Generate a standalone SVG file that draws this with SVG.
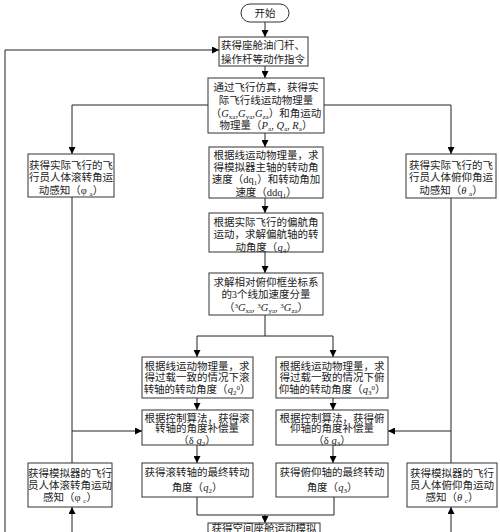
<svg xmlns="http://www.w3.org/2000/svg" width="500" height="532" viewBox="0 0 500 532">
<defs>
<marker id="ah" viewBox="0 0 8 8" refX="8" refY="4" markerWidth="7" markerHeight="7" orient="auto" markerUnits="userSpaceOnUse">
<path d="M0,0 L8,4 L0,8 z" fill="#000"/>
</marker>
<style>
.b{fill:#fff;stroke:#333;stroke-width:1}
.t{font-family:"Liberation Serif","Noto Sans CJK SC",serif;font-size:10.5px;fill:#222;text-anchor:middle}
.c{fill:none;stroke:#222;stroke-width:1}
.a{fill:none;stroke:#222;stroke-width:1;marker-end:url(#ah)}
.i{font-style:italic}
.s{font-size:7px}
</style>
</defs>
<rect width="500" height="532" fill="#fff"/>
<g id="connectors">
<path class="a" d="M265,22 V37"/>
<path class="a" d="M5,532 V50 H219"/>
<path class="a" d="M265,66 V78"/>
<path class="a" d="M265,133 V147"/>
<path class="a" d="M265,198 V213"/>
<path class="a" d="M265,252 V273"/>
<path class="c" d="M208,105 H72"/>
<path class="a" d="M72,105 V154"/>
<path class="c" d="M324,105 H451"/>
<path class="a" d="M451,105 V154"/>
<path class="c" d="M265,315 V336"/>
<path class="c" d="M197,336 H333"/>
<path class="a" d="M197,336 V357"/>
<path class="a" d="M333,336 V357"/>
<path class="a" d="M197,398 V410"/>
<path class="a" d="M333,398 V410"/>
<path class="a" d="M197,445 V463"/>
<path class="a" d="M333,445 V463"/>
<path class="c" d="M72,197 V463"/>
<path class="a" d="M72,431 H142"/>
<path class="c" d="M451,198 V463"/>
<path class="a" d="M451,431 H388"/>
<path class="a" d="M72,532 V507"/>
<path class="a" d="M451,532 V507"/>
<path class="c" d="M197,497 V515 H334 V497"/>
<path class="a" d="M265,515 V523"/>
</g>
<g id="start">
<rect x="241" y="4" width="48" height="18" rx="9" class="b"/>
<text class="t" x="265" y="17">开始</text>
</g>
<g id="box1">
<rect x="219" y="37" width="89" height="29" class="b"/>
<text class="t" x="263" y="49">获得座舱油门杆、</text>
<text class="t" x="263" y="63">操作杆等动作指令</text>
</g>
<g id="box2">
<rect x="208" y="78" width="116" height="55" class="b"/>
<text class="t" x="266" y="91">通过飞行仿真，获得实</text>
<text class="t" x="266" y="104">际飞行线运动物理量</text>
<text class="t" x="266" y="117">（<tspan class="i">G</tspan><tspan class="s" dy="2">xa</tspan><tspan dy="-2">,</tspan><tspan class="i">G</tspan><tspan class="s" dy="2">ya</tspan><tspan dy="-2">,</tspan><tspan class="i">G</tspan><tspan class="s" dy="2">za</tspan><tspan dy="-2">）和角运动</tspan></text>
<text class="t" x="266" y="129">物理量（<tspan class="i">P</tspan><tspan class="s" dy="2">a</tspan><tspan dy="-2">, </tspan><tspan class="i">Q</tspan><tspan class="s" dy="2">a</tspan><tspan dy="-2">, </tspan><tspan class="i">R</tspan><tspan class="s" dy="2">a</tspan><tspan dy="-2">）</tspan></text>
</g>
<g id="box3">
<rect x="209" y="147" width="114" height="51" class="b"/>
<text class="t" x="266" y="159">根据线运动物理量，求</text>
<text class="t" x="266" y="171">得模拟器主轴的转动角</text>
<text class="t" x="266" y="183">速度（dq<tspan class="s" dy="2">1</tspan><tspan dy="-2">）和转动角加</tspan></text>
<text class="t" x="266" y="196">速度（ddq<tspan class="s" dy="2">1</tspan><tspan dy="-2">）</tspan></text>
</g>
<g id="box4">
<rect x="209" y="213" width="114" height="39" class="b"/>
<text class="t" x="266" y="226">根据实际飞行的偏航角</text>
<text class="t" x="266" y="238">运动，求解偏航轴的转</text>
<text class="t" x="266" y="251">动角度（<tspan class="i">q</tspan><tspan class="s" dy="2">4</tspan><tspan dy="-2">）</tspan></text>
</g>
<g id="box5">
<rect x="209" y="273" width="114" height="42" class="b"/>
<text class="t" x="266" y="286">求解相对俯仰框坐标系</text>
<text class="t" x="266" y="298">的3个线加速度分量</text>
<text class="t" x="266" y="311">（<tspan class="s" dy="-3">3</tspan><tspan class="i" dy="3">G</tspan><tspan class="s" dy="2">xa</tspan><tspan dy="-2">, </tspan><tspan class="s" dy="-3">3</tspan><tspan class="i" dy="3">G</tspan><tspan class="s" dy="2">ya</tspan><tspan dy="-2">, </tspan><tspan class="s" dy="-3">3</tspan><tspan class="i" dy="3">G</tspan><tspan class="s" dy="2">za</tspan><tspan dy="-2">）</tspan></text>
</g>
<g id="left1">
<rect x="28" y="154" width="86" height="43" class="b"/>
<text class="t" x="71" y="169">获得实际飞行的飞</text>
<text class="t" x="71" y="181">行员人体滚转角运</text>
<text class="t" x="71" y="194">动感知（φ <tspan class="s" dy="2">a</tspan><tspan dy="-2">）</tspan></text>
</g>
<g id="right1">
<rect x="406" y="154" width="90" height="44" class="b"/>
<text class="t" x="451" y="169">获得实际飞行的飞</text>
<text class="t" x="451" y="181">行员人体俯仰角运</text>
<text class="t" x="451" y="194">动感知（<tspan class="i">θ</tspan> <tspan class="s" dy="2">a</tspan><tspan dy="-2">）</tspan></text>
</g>
<g id="midL1">
<rect x="142" y="357" width="111" height="41" class="b"/>
<text class="t" x="197" y="370">根据线运动物理量，求</text>
<text class="t" x="197" y="381">得过载一致的情况下滚</text>
<text class="t" x="197" y="393">转轴的转动角度（<tspan class="i">q</tspan><tspan class="s" dy="2">2</tspan><tspan class="s" dy="-5">0</tspan><tspan dy="3">）</tspan></text>
</g>
<g id="midL2">
<rect x="142" y="410" width="111" height="35" class="b"/>
<text class="t" x="197" y="422">根据控制算法，获得滚</text>
<text class="t" x="197" y="432">转轴的角度补偿量</text>
<text class="t" x="197" y="444">（δ <tspan class="i">q</tspan><tspan class="s" dy="2">2</tspan><tspan dy="-2">）</tspan></text>
</g>
<g id="midL3">
<rect x="142" y="463" width="111" height="34" class="b"/>
<text class="t" x="197" y="476">获得滚转轴的最终转动</text>
<text class="t" x="197" y="491">角度（<tspan class="i">q</tspan><tspan class="s" dy="2">2</tspan><tspan dy="-2">）</tspan></text>
</g>
<g id="midR1">
<rect x="276" y="357" width="112" height="41" class="b"/>
<text class="t" x="332" y="370">根据线运动物理量，求</text>
<text class="t" x="332" y="381">得过载一致的情况下俯</text>
<text class="t" x="332" y="393">仰轴的转动角度（<tspan class="i">q</tspan><tspan class="s" dy="2">3</tspan><tspan class="s" dy="-5">0</tspan><tspan dy="3">）</tspan></text>
</g>
<g id="midR2">
<rect x="276" y="410" width="112" height="35" class="b"/>
<text class="t" x="332" y="422">根据控制算法，获得俯</text>
<text class="t" x="332" y="432">仰轴的角度补偿量</text>
<text class="t" x="332" y="444">（δ <tspan class="i">q</tspan><tspan class="s" dy="2">3</tspan><tspan dy="-2">）</tspan></text>
</g>
<g id="midR3">
<rect x="276" y="463" width="112" height="34" class="b"/>
<text class="t" x="332" y="476">获得俯仰轴的最终转动</text>
<text class="t" x="332" y="491">角度（<tspan class="i">q</tspan><tspan class="s" dy="2">3</tspan><tspan dy="-2">）</tspan></text>
</g>
<g id="left2">
<rect x="28" y="463" width="84" height="44" class="b"/>
<text class="t" x="70" y="477">获得模拟器的飞行</text>
<text class="t" x="70" y="489">员人体滚转角运动</text>
<text class="t" x="70" y="501">感知（φ <tspan class="s" dy="2">c</tspan><tspan dy="-2">）</tspan></text>
</g>
<g id="right2">
<rect x="407" y="463" width="90" height="44" class="b"/>
<text class="t" x="452" y="477">获得模拟器的飞行</text>
<text class="t" x="452" y="489">员人体俯仰角运动</text>
<text class="t" x="452" y="501">感知（<tspan class="i">θ</tspan> <tspan class="s" dy="2">c</tspan><tspan dy="-2">）</tspan></text>
</g>
<g id="bottom">
<rect x="208" y="523" width="112" height="30" class="b"/>
<text class="t" x="264" y="532">获得空间座舱运动模拟</text>
</g>
</svg>
